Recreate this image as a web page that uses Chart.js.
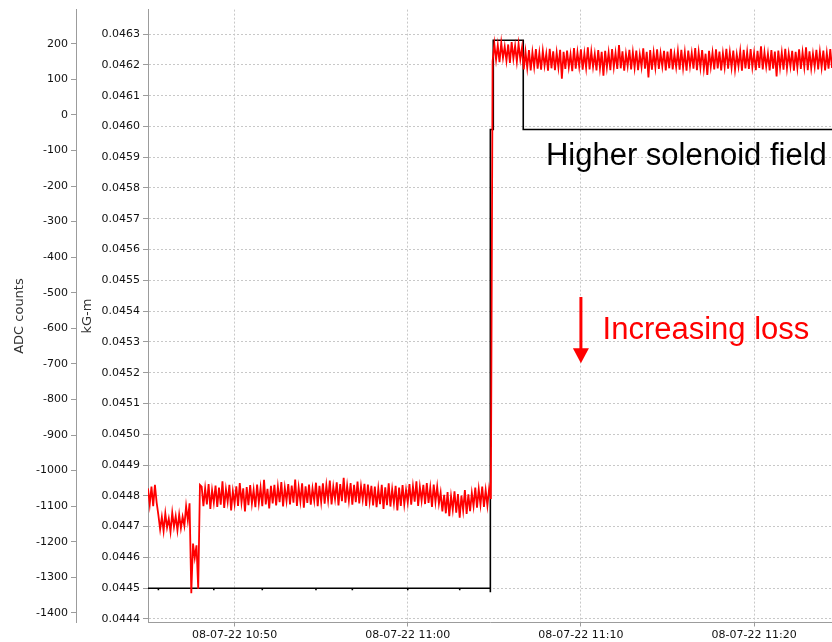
<!DOCTYPE html>
<html>
<head>
<meta charset="utf-8">
<title>Loss monitor vs solenoid field</title>
<script src="https://cdn.jsdelivr.net/npm/chart.js@4.4.1/dist/chart.umd.min.js"></script>
<style>
    html, body { margin: 0; padding: 0; background: #fff; }
    canvas { display: block; }
</style>
</head>
<body>
<canvas id="lossChart" width="832" height="642"></canvas>
<script>
// time axis in minutes after 10:00 (08-07-22)
const timeTicks = [50, 60, 70, 80];
const timeLabels = ["08-07-22 10:50", "08-07-22 11:00", "08-07-22 11:10", "08-07-22 11:20"];

const adcTicks = [-1400, -1300, -1200, -1100, -1000, -900, -800, -700, -600, -500,
    -400, -300, -200, -100, 0, 100, 200];
const kgTicks = [0.0444, 0.0445, 0.0446, 0.0447, 0.0448, 0.0449, 0.0450, 0.0451, 0.0452, 0.0453,
    0.0454, 0.0455, 0.0456, 0.0457, 0.0458, 0.0459, 0.0460, 0.0461, 0.0462, 0.0463];

// loss monitor, one reading every 6 s starting 10:45:00
const lossStart = 45;
const sampleMinutes = 0.1;
const lossCounts = [
    -1050, -1095, -1045, -1100, -1040, -1090,
    -1125, -1165, -1130, -1170, -1120, -1160, -1135, -1172, -1118, -1158, -1128, -1168, -1124, -1162, -1130, -1155,
    -1100, -1140, -1092,
    -1345,
    -1205, -1245, -1210,
    -1332,
    -1040,
    -1045, -1100, -1050, -1095, -1038, -1108, -1055, -1090, -1042, -1102,
    -1048, -1096, -1030, -1105, -1052, -1088, -1040, -1112, -1058, -1094,
    -1044, -1099, -1035, -1090, -1050, -1115, -1046, -1097, -1041, -1093,
    -1054, -1103, -1039, -1091, -1048, -1100, -1026, -1095, -1051, -1106,
    -1043,
    -1092, -1040, -1098, -1045, -1089, -1032, -1101, -1048, -1086, -1038,
    -1095, -1042, -1090, -1025, -1099, -1047, -1087, -1036, -1104, -1044,
    -1091, -1039, -1096, -1050, -1085, -1034, -1100, -1043,
    -1088, -1036, -1093, -1041, -1083, -1028, -1095, -1045, -1080, -1033,
    -1098, -1038, -1086, -1020, -1090, -1042, -1084, -1035, -1096, -1040,
    -1089, -1031, -1092, -1044, -1082, -1037, -1099, -1039, -1087, -1043,
    -1098, -1045, -1103, -1050, -1094, -1040, -1108, -1047, -1097, -1036,
    -1101, -1052, -1092, -1043, -1112, -1048, -1099, -1041, -1095, -1054,
    -1090, -1038, -1096, -1044, -1087, -1030, -1099, -1046, -1085, -1040,
    -1094, -1035, -1091, -1048, -1102, -1039, -1088, -1045, -1093,
    -1062, -1115, -1068, -1120, -1060, -1128, -1072, -1110, -1058, -1118,
    -1066, -1132, -1070, -1112, -1055, -1122, -1067, -1114, -1063,
    -1100, -1048, -1104, -1052, -1096, -1045, -1102, -1055, -1098, -1050,
    -1080,
    150, 200, 155, 196, 148, 203, 160, 192, 152, 198, 146, 205, 158, 194, 150, 199, 156, 190,
    128, 178, 132, 182, 125, 176, 135, 185, 130, 174,
    127, 180, 138, 172, 124, 186, 131, 179, 126, 175,
    133, 183, 102, 177, 129, 181, 134, 170, 123, 188,
    130, 176, 136, 184, 127, 173, 132, 190, 128, 178,
    135, 171, 125, 182, 131, 177, 110, 180, 133, 175,
    126, 185, 134, 174, 129, 196, 131, 179, 124, 172,
    137, 183, 128, 176, 132, 181, 126, 170, 135, 187,
    130, 177, 105, 182, 127, 175, 133, 184, 129, 173,
    136, 180, 125, 178, 131, 186, 128, 171, 134, 179,
    127, 183, 132, 176, 124, 181, 137, 174, 130, 188,
    126, 177, 133, 182, 129, 172, 112, 180, 135, 175,
    128, 184, 131, 178, 125, 173, 134, 186, 130, 176,
    133, 181, 127, 170, 136, 179, 124, 183, 131, 177,
    129, 185, 134, 174, 126, 180, 132, 193, 128, 176,
    135, 172, 125, 182, 130, 178, 108, 181, 133, 175,
    127, 186, 131, 173, 136, 180, 124, 177, 132, 184,
    129, 176, 134, 190, 126, 179, 131, 172, 135, 183,
    128, 177, 133, 181, 125, 174, 130, 185, 132,
];

// solenoid setpoint readback (kG-m), step changes
const fieldTimes = [45, 45.6, 45.6, 45.6, 48.8, 48.8, 48.8, 51.6, 51.6, 51.6, 54.7, 54.7, 54.7,
    56.8, 56.8, 56.8, 60.0, 60.0, 60.0, 63.0, 63.0, 63.0, 64.77, 64.77, 64.77, 64.94, 64.94,
    66.67, 66.67, 84.5];
const fieldValues = [0.04450, 0.04450, 0.044493, 0.04450, 0.04450, 0.044493, 0.04450,
    0.04450, 0.044493, 0.04450, 0.04450, 0.044493, 0.04450, 0.04450, 0.044493, 0.04450,
    0.04450, 0.044493, 0.04450, 0.04450, 0.044493, 0.04450, 0.04450, 0.044487, 0.04599,
    0.04599, 0.04628, 0.04628, 0.04599, 0.04599];

const lossPoints = lossCounts.map((v, i) => ({ x: lossStart + i * sampleMinutes, y: v }));
const fieldPoints = fieldTimes.map((t, i) => ({ x: t, y: fieldValues[i] }));

const tickFont = { family: "'DejaVu Sans', sans-serif", size: 11 };
const titleFont = { family: "'DejaVu Sans', sans-serif", size: 13 };
const axisGray = "#9c9c9c";
const gridGray = "#c8c8c8";

// text and arrow on top of the traces
const notes = {
    id: "notes",
    afterDatasetsDraw(chart) {
        const { ctx, scales } = chart;
        const x = scales.x, adc = scales.adc, kg = scales.kg;
        ctx.save();
        ctx.font = "31px 'Liberation Sans', Arial, sans-serif";
        ctx.textAlign = "left";
        ctx.textBaseline = "alphabetic";
        ctx.fillStyle = "#000";
        ctx.fillText("Higher solenoid field", x.getPixelForValue(67.98), kg.getPixelForValue(0.045876));

        ctx.fillStyle = "#ff0000";
        ctx.fillText("Increasing loss", x.getPixelForValue(71.25), adc.getPixelForValue(-631));

        const ax = x.getPixelForValue(70);
        const top = adc.getPixelForValue(-512);
        const tip = adc.getPixelForValue(-698);
        ctx.strokeStyle = "#ff0000";
        ctx.lineWidth = 3;
        ctx.beginPath();
        ctx.moveTo(ax, top);
        ctx.lineTo(ax, tip - 12);
        ctx.stroke();
        ctx.beginPath();
        ctx.moveTo(ax - 8, tip - 15);
        ctx.lineTo(ax + 8, tip - 15);
        ctx.lineTo(ax, tip);
        ctx.closePath();
        ctx.fill();
        ctx.restore();
    }
};

new Chart(document.getElementById("lossChart"), {
    type: "line",
    data: {
        datasets: [
            {
                label: "Loss monitor",
                data: lossPoints,
                yAxisID: "adc",
                borderColor: "#ff0000",
                borderWidth: 1.8,
                pointRadius: 0,
                tension: 0,
            },
            {
                label: "Solenoid",
                data: fieldPoints,
                yAxisID: "kg",
                borderColor: "#000000",
                borderWidth: 1.6,
                pointRadius: 0,
                tension: 0,
            },
        ],
    },
    options: {
        responsive: false,
        animation: false,
        events: [],
        layout: { padding: { top: 9.5, right: 0, bottom: 0, left: 0 } },
        plugins: {
            legend: { display: false },
            tooltip: { enabled: false },
        },
        scales: {
            x: {
                type: "linear",
                position: "bottom",
                min: 45,
                max: 84.5,
                afterBuildTicks: (scale) => { scale.ticks = timeTicks.map((v) => ({ value: v })); },
                afterFit: (scale) => { scale.height = 19.5; },
                ticks: {
                    font: tickFont,
                    color: "#111",
                    padding: 2,
                    maxRotation: 0,
                    autoSkip: false,
                    callback: (v) => timeLabels[timeTicks.indexOf(v)],
                },
                grid: { color: gridGray, tickLength: 4, tickColor: axisGray },
                border: { color: axisGray, dash: [2, 2] },
            },
            adc: {
                type: "linear",
                position: "left",
                weight: 1,
                min: -1427,
                max: 296,
                afterBuildTicks: (scale) => { scale.ticks = adcTicks.map((v) => ({ value: v })); },
                afterFit: (scale) => { scale.width = 76; },
                ticks: {
                    font: tickFont,
                    color: "#111",
                    padding: 3,
                    callback: (v) => String(v),
                },
                title: {
                    display: true,
                    text: "ADC counts",
                    font: titleFont,
                    color: "#333",
                    padding: { top: 12, bottom: 0 },
                },
                grid: { drawOnChartArea: false, tickLength: 5, tickColor: axisGray },
                border: { color: axisGray },
            },
            kg: {
                type: "linear",
                position: "left",
                weight: 0,
                min: 0.0443886,
                max: 0.0463795,
                afterBuildTicks: (scale) => { scale.ticks = kgTicks.map((v) => ({ value: v })); },
                afterFit: (scale) => { scale.width = 72; },
                ticks: {
                    font: tickFont,
                    color: "#111",
                    padding: 3,
                    callback: (v) => v.toFixed(4),
                },
                title: {
                    display: true,
                    text: "kG-m",
                    font: titleFont,
                    color: "#333",
                    padding: { top: 4, bottom: 0 },
                },
                grid: { color: gridGray, tickLength: 5, tickColor: axisGray },
                border: { color: axisGray, dash: [2, 2] },
            },
        },
    },
    plugins: [notes],
});
</script>
</body>
</html>
